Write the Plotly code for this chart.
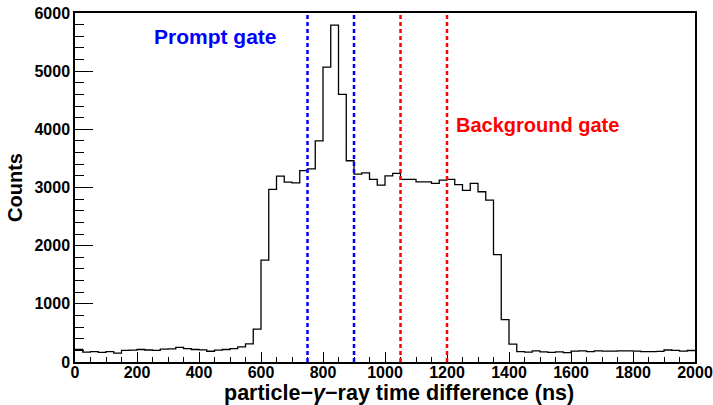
import numpy as np
import plotly.graph_objects as go

# Histogram: 80 bins of 25 ns between 0 and 2000 ns
bin_width = 25
bin_edges = np.arange(0, 2000 + bin_width, bin_width)
counts = [
    215, 170, 178, 166, 180, 152, 200, 203, 215, 206,
    200, 220, 225, 250, 230, 215, 210, 185, 205, 215,
    230, 260, 310, 565, 1753, 2967, 3196, 3093, 3080, 3290,
    3320, 3800, 5070, 5790, 4600, 3460, 3230, 3253, 3139, 3041,
    3201, 3242, 3139, 3139, 3098, 3098, 3070, 3127, 3139, 3050,
    2950, 3070, 2927, 2784, 1845, 728, 306, 180, 170, 190,
    175, 165, 175, 162, 186, 190, 180, 190, 186, 188,
    190, 190, 186, 180, 180, 182, 206, 200, 186, 198,
]

# Gate boundaries (ns)
prompt_gate = [750, 900]
background_gate = [1050, 1200]

x_ticks = list(range(0, 2001, 200))
y_ticks = list(range(0, 6001, 1000))

font_family = "Liberation Sans, Arial, Helvetica, sans-serif"

fig = go.Figure()
fig.add_trace(go.Scatter(
    x=bin_edges,
    y=counts + [counts[-1]],
    mode="lines",
    line=dict(shape="hv", color="black", width=1.3),
    hoverinfo="skip",
    showlegend=False,
))

shapes = []
for edge in prompt_gate:
    shapes.append(dict(type="line", xref="x", yref="y", x0=edge, x1=edge, y0=0, y1=6000,
                       line=dict(color="#0000ff", width=2.5, dash="4px,3px")))
for edge in background_gate:
    shapes.append(dict(type="line", xref="x", yref="y", x0=edge, x1=edge, y0=0, y1=6000,
                       line=dict(color="#ff0000", width=2.5, dash="4px,3px")))

annotations = [
    dict(x=452, y=5590, xref="x", yref="y", text="Prompt gate", showarrow=False,
         font=dict(family=font_family, size=21, color="#0000ff", weight="bold")),
    dict(x=1492, y=4080, xref="x", yref="y", text="Background gate", showarrow=False,
         font=dict(family=font_family, size=20, color="#ff0000", weight="bold")),
    # x-axis title, placed slightly right of centre
    dict(x=0.522, y=-0.089, xref="paper", yref="paper", xanchor="center", yanchor="middle",
         text="particle\u2212<i>\u03b3</i>\u2212ray time difference (ns)", showarrow=False,
         font=dict(family=font_family, size=21.5, color="black", weight="bold")),
]

fig.update_layout(
    width=713, height=405,
    margin=dict(l=75, r=18, t=13, b=43),
    paper_bgcolor="white", plot_bgcolor="white",
    shapes=shapes,
    annotations=annotations,
    font=dict(family=font_family, color="black"),
)

fig.update_xaxes(
    range=[0, 2000], tickvals=x_ticks, ticktext=[str(v) for v in x_ticks],
    ticks="inside", ticklen=10, tickwidth=1, tickcolor="black",
    minor=dict(dtick=50, tick0=0, ticks="inside", ticklen=5, tickcolor="black", tickwidth=1),
    showline=True, mirror=True, linecolor="black", linewidth=1.5,
    showgrid=False, zeroline=False,
    tickfont=dict(family=font_family, size=16, weight="bold"),
    ticklabelstandoff=-5,
    automargin=False,
)
fig.update_yaxes(
    range=[0, 6000], tickvals=y_ticks, ticktext=[str(v) for v in y_ticks],
    ticks="inside", ticklen=18, tickwidth=1, tickcolor="black",
    minor=dict(dtick=200, tick0=0, ticks="inside", ticklen=9, tickcolor="black", tickwidth=1),
    showline=True, mirror=True, linecolor="black", linewidth=1.5,
    showgrid=False, zeroline=False,
    tickfont=dict(family=font_family, size=16, weight="bold"),
    title=dict(text="Counts", standoff=6,
               font=dict(family=font_family, size=20, weight="bold")),
    automargin=False,
)

fig.write_html("out.html")
